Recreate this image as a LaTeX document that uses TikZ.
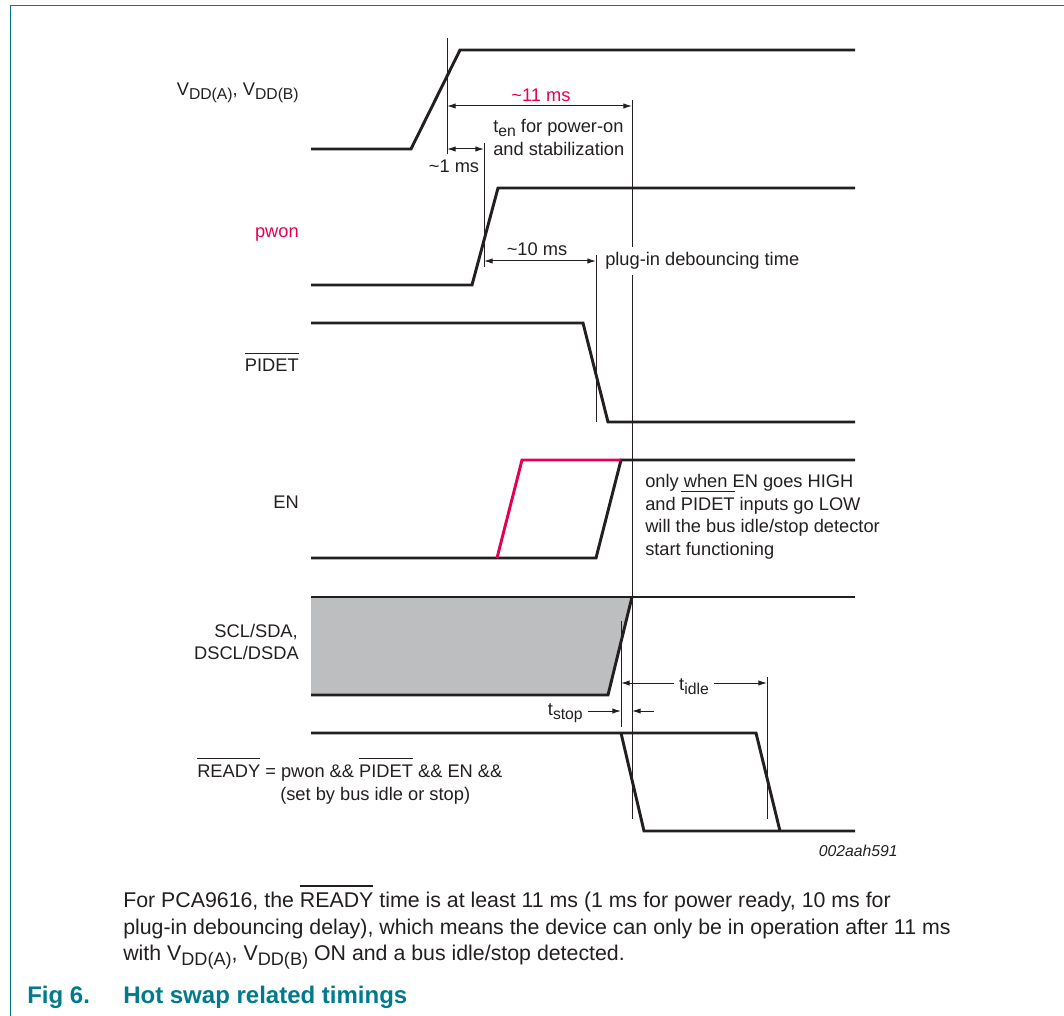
\documentclass[tikz,border=0pt]{standalone}
\usepackage{fontspec}
\setmainfont{Liberation Sans}
\usetikzlibrary{arrows.meta}
\definecolor{ink}{HTML}{231F20}
\definecolor{sigred}{RGB}{230,0,85}
\definecolor{busgrey}{HTML}{BCBEC0}
\definecolor{nxpteal}{RGB}{0,122,140}
\newcommand\lsub[1]{\raisebox{-3pt}{\fontsize{11.8}{11.8}\selectfont #1}}
\newcommand\psub[1]{\raisebox{-3.5pt}{\fontsize{13.6}{13.6}\selectfont #1}}
\newsavebox\ovlbox
\newcommand\ovl[1]{\sbox\ovlbox{#1}\rlap{\smash{\rule[\dimexpr\ht\ovlbox+0.3em\relax]{\wd\ovlbox}{0.06em}}}\usebox\ovlbox}
\begin{document}
\begin{tikzpicture}[x=0.75pt,y=-0.75pt,
  signal/.style={line width=2.2pt, draw=ink, line join=miter},
  thinline/.style={line width=0.75pt, draw=ink},
  dimarrow/.style={line width=0.75pt, draw=ink, {Latex[length=6.5pt,width=4pt]}-{Latex[length=6.5pt,width=4pt]}},
  onearrow/.style={line width=0.75pt, draw=ink, -{Latex[length=6.5pt,width=4pt]}},
  lbl/.style={font=\fontsize{13.7}{17}\selectfont, text=ink, inner sep=0pt},
  caption/.style={font=\bfseries\fontsize{18}{20}\selectfont, text=nxpteal, inner sep=0pt, anchor=base west}]
\useasboundingbox (0,0) rectangle (1064,1016);
% frame
\draw[nxpteal, line width=1.1pt] (10.5,1016) -- (10.5,5.5) -- (1064,5.5);

% bus fill
\fill[busgrey] (311,597) -- (632,597) -- (608,695) -- (311,695) -- cycle;

% signals
\draw[signal] (311,149) -- (411,149) -- (460,50) -- (855,50);
\draw[signal] (311,285) -- (472,285) -- (498,188) -- (855,188);
\draw[signal] (311,323) -- (583,323) -- (608,422) -- (855,422);
\draw[signal] (311,558) -- (596,558) -- (621,460) -- (855,460);
\draw[signal, draw=sigred] (497,558) -- (522,460) -- (621,460);
\draw[signal] (311,695) -- (608,695) -- (632,597);
\draw[signal] (311,597) -- (855,597);
\draw[signal] (311,733) -- (756,733) -- (780,831);
\draw[signal] (621,733) -- (644,831) -- (855,831);

% marker lines
\coordinate (m1t) at (447,38);  \coordinate (m1b) at (447,154);
\coordinate (m2t) at (484,143); \coordinate (m2b) at (484,267);
\coordinate (m3t) at (632,100); \coordinate (m3b) at (632,819);
\coordinate (m4t) at (596,255); \coordinate (m4b) at (596,422);
\coordinate (m5t) at (621,621); \coordinate (m5b) at (621,727);
\coordinate (m6t) at (767,677); \coordinate (m6b) at (767,819);
\foreach \m in {m1,m2,m3,m4,m5,m6} \draw[thinline] (\m t) -- (\m b);

% dimension arrows
\coordinate (d11l) at (447,106); \coordinate (d11r) at (632,106);
\draw[dimarrow] (d11l) -- (d11r);
\coordinate (d1l) at (447,149); \coordinate (d1r) at (484,149);
\draw[dimarrow] (d1l) -- (d1r);
\coordinate (d10l) at (484,261); \coordinate (d10r) at (596,261);
\draw[dimarrow] (d10l) -- (d10r);
\coordinate (dil) at (621,683); \coordinate (dir) at (767,683);
\draw[dimarrow] (dil) -- (dir);
\coordinate (ts1a) at (588,711); \coordinate (ts1b) at (621,711);
\draw[onearrow] (ts1a) -- (ts1b);
\coordinate (ts2a) at (654,711); \coordinate (ts2b) at (632,711);
\draw[onearrow] (ts2a) -- (ts2b);

% dimension labels
\node[lbl, anchor=base, text=sigred] (l11) at (541,102) {\textasciitilde11 ms};
\node[lbl, anchor=base] (l1) at (454,173) {\textasciitilde1 ms};
\node[lbl, anchor=base] (l10) at (537,256) {\textasciitilde10 ms};
\node[lbl, align=left, anchor=north west] (ten) at (493,119) {t\lsub{en} for power-on\\and stabilization};
\node[lbl, anchor=base west, fill=white, inner xsep=3pt, inner ysep=4pt] (plug) at (601,266) {plug-in debouncing time};
\node[lbl, anchor=base, fill=white, inner xsep=4pt, inner ysep=2pt] (tidle) at (694,690) {t\lsub{idle}};
\node[lbl, anchor=base east] (tstop) at (583,715) {t\lsub{stop}};
\node[lbl, align=left, anchor=north west] (note) at (645,474) {only when EN goes HIGH\\and \ovl{PIDET} inputs go LOW\\will the bus idle/stop detector\\start functioning};

% signal names
\node[lbl, anchor=base east] (lvdd) at (299,96) {V\lsub{DD(A)}, V\lsub{DD(B)}};
\node[lbl, anchor=base east, text=sigred] (lpwon) at (299,238) {pwon};
\node[lbl, anchor=base east] (lpidet) at (299,372) {\ovl{PIDET}};
\node[lbl, anchor=base east] (len) at (299,508) {EN};
\node[lbl, anchor=base east] (lscl1) at (298,637) {SCL/SDA,};
\node[lbl, anchor=base east] (lscl2) at (299,659) {DSCL/DSDA};
\node[lbl, anchor=base west] (lready1) at (197,777) {\ovl{READY} = pwon \&\& \ovl{PIDET} \&\& EN \&\&};
\node[lbl, anchor=base west] (lready2) at (280,800) {(set by bus idle or stop)};

\node[lbl, anchor=base east, font=\itshape\fontsize{11.8}{14}\selectfont] (code) at (898,856) {002aah591};

% paragraph
\node[lbl, align=left, anchor=north west, font=\fontsize{16}{19.9}\selectfont] (para) at (123,892)
 {For PCA9616, the \ovl{READY} time is at least 11 ms (1 ms for power ready, 10 ms for\\
  plug-in debouncing delay), which means the device can only be in operation after 11 ms\\
  with V\psub{DD(A)}, V\psub{DD(B)} ON and a bus idle/stop detected.};

% caption
\node[caption] (fig) at (27,1003) {Fig 6.};
\node[caption] (figt) at (123,1003) {Hot swap related timings};
\end{tikzpicture}
\end{document}
